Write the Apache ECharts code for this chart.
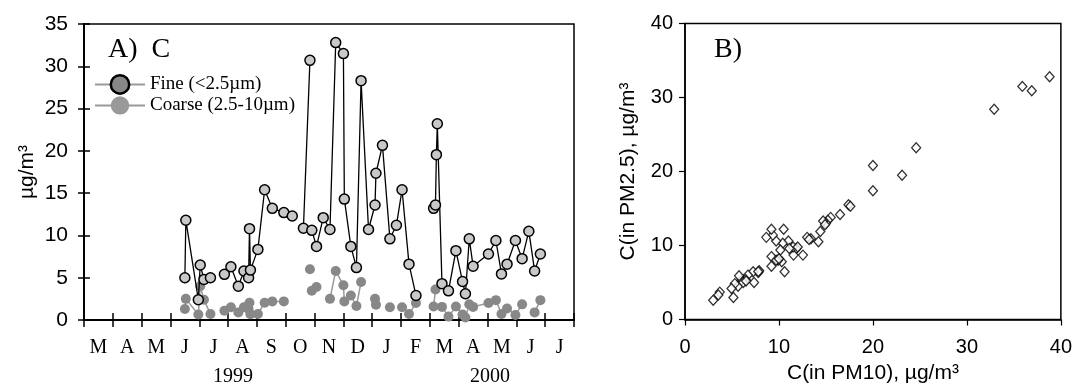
<!DOCTYPE html>
<html><head><meta charset="utf-8">
<script src="https://cdn.jsdelivr.net/npm/echarts@6/dist/echarts.min.js"></script>
<style>html,body{margin:0;padding:0;background:#fff}#c{width:1075px;height:390px}</style>
</head><body><div id="c"></div>
<script>
// ---- data ----
const monthLabels = ['M','A','M','J','J','A','S','O','N','D','J','F','M','A','M','J','J'];
const yearLabels = ['1999','2000'];
const sampleDates = [
 '1999-06-16','1999-06-17','1999-06-30','1999-07-02','1999-07-06','1999-07-13',
 '1999-07-28','1999-08-04','1999-08-12','1999-08-18','1999-08-23','1999-08-24','1999-08-25','1999-09-02','1999-09-09','1999-09-17','1999-09-29','1999-10-08',
 '1999-10-20','1999-10-27',
 '1999-10-29','1999-11-03','1999-11-10','1999-11-17','1999-11-23','1999-12-01','1999-12-02','1999-12-09','1999-12-15','1999-12-20','1999-12-28',
 '2000-01-04','2000-01-05','2000-01-12','2000-01-20','2000-01-27','2000-02-02','2000-02-09','2000-02-16',
 '2000-03-05','2000-03-07','2000-03-08','2000-03-09','2000-03-14','2000-03-21','2000-03-29','2000-04-05','2000-04-08','2000-04-12','2000-04-16',
 '2000-05-02','2000-05-10','2000-05-16','2000-05-22','2000-05-31','2000-06-07','2000-06-14','2000-06-20','2000-06-26'
];
const segment = [
 1,1,1,1,1,1,
 2,2,2,2,2,2,2,2,2,2,2,2,
 3,3,
 4,4,4,4,4,4,4,4,4,4,4,
 4,4,4,4,4,4,4,4,
 5,5,5,5,5,5,5,5,5,5,5,
 5,5,5,5,5,5,5,5,5
];
const fineC = [
 5.0,11.8,2.4,6.5,4.8,5.0,
 5.4,6.3,4.0,5.8,5.0,10.8,5.9,8.35,15.4,13.2,12.7,12.3,
 10.85,30.7,
 10.6,8.7,12.1,10.7,32.8,31.5,14.3,8.7,6.2,28.3,10.7,
 13.6,17.35,20.65,9.6,11.2,15.4,6.6,2.9,
 13.2,13.6,19.55,23.2,4.3,3.45,8.2,4.55,3.1,9.6,6.35,
 7.8,9.4,5.45,6.6,9.4,7.25,10.5,5.8,7.8
];
const coarseC = [
 1.3,2.5,0.65,4.0,2.4,0.7,
 1.1,1.5,0.9,1.5,1.3,2.05,0.67,0.7,2.05,2.2,2.2,null,
 null,6.0,
 3.45,3.9,null,2.5,5.8,4.1,2.2,2.9,1.65,4.5,null,
 2.5,1.8,null,1.5,null,1.5,0.7,2.0,
 1.6,3.6,null,null,1.55,0.4,1.6,0.65,0.3,1.85,1.55,
 2.0,2.35,0.7,1.35,0.6,1.85,null,0.9,2.35
];
const pm10C = [38.8,35.9,36.9,32.9,24.6,23.1,20.0,20.0,17.4,17.6,16.5,15.5,15.2,15.0,14.7,14.9,14.4,14.2,13.4,13.0,13.2,12.55,11.85,11.55,11.5,11.0,11.1,10.6,10.5,10.4,10.15,10.3,9.9,9.7,9.35,9.2,8.65,9.2,9.2,9.7,7.9,7.8,7.25,7.35,6.7,6.45,6.0,5.75,5.65,5.3,4.95,5.15,3.7,3.55,3.0,6.2,6.5,7.8,10.0,12.0];
const pm25C = [32.8,31.5,30.9,28.4,23.2,19.5,20.8,17.4,15.5,15.3,14.2,13.8,13.4,13.0,13.3,12.8,11.9,10.5,10.9,11.1,10.8,8.7,9.6,8.7,9.8,10.6,9.6,6.45,12.2,10.3,9.4,7.8,8.0,10.6,11.4,12.2,11.1,8.5,7.2,8.0,6.6,6.35,6.45,5.0,6.0,5.4,5.3,5.9,4.5,4.85,4.2,2.97,3.7,3.3,2.6,5.0,5.2,6.5,8.2,9.8];

// ---- helpers ----
function monthPos(s){
  const p = s.split('-').map(Number);
  const dim = new Date(p[0], p[1], 0).getDate();
  return (p[0]-1999)*12 + (p[1]-3) + (p[2]-1)/dim;
}
function build(vals){
  const out = [];
  for (let i=0;i<sampleDates.length;i++){
    const x = monthPos(sampleDates[i]);
    if (i>0 && segment[i]!==segment[i-1]) out.push([x-0.01,'-']);
    out.push([x, vals[i]==null ? '-' : vals[i]]);
  }
  return out;
}
const SANS = '"Liberation Sans", Arial, sans-serif';
const SERIF = '"Liberation Serif", "Times New Roman", serif';

const chart = echarts.init(document.getElementById('c'), null, {renderer:'canvas'});
chart.setOption({
  animation:false,
  backgroundColor:'#fff',
  title:[
    {text:'A)  C', left:103, top:31, textStyle:{fontFamily:SERIF, fontSize:28, fontWeight:'normal', color:'#000'}},
    {text:'B)', left:709, top:31, textStyle:{fontFamily:SERIF, fontSize:28, fontWeight:'normal', color:'#000'}}
  ],
  legend:{
    orient:'vertical', left:89, top:69, itemWidth:50, itemHeight:23, itemGap:1,
    textStyle:{fontFamily:SERIF, fontSize:19, color:'#000'},
    data:[
      {name:'Fine (<2.5µm)', itemStyle:{color:'#888', borderColor:'#000', borderWidth:2.5}, lineStyle:{color:'#999', width:2}},
      {name:'Coarse (2.5-10µm)', itemStyle:{color:'#999', borderWidth:0}, lineStyle:{color:'#999', width:2}}
    ]
  },
  grid:[
    {left:84, top:24, width:490, height:296, show:true, borderColor:'#000', borderWidth:1.5, backgroundColor:'transparent'},
    {left:685, top:23.5, width:377, height:296, show:true, borderColor:'#000', borderWidth:1.5, backgroundColor:'transparent'}
  ],
  xAxis:[
    {type:'value', gridIndex:0, position:'bottom', min:0, max:17, interval:1,
     axisLine:{lineStyle:{color:'#000', width:2}}, axisTick:{inside:true, length:7, lineStyle:{color:'#000', width:1.5}},
     axisLabel:{show:false}, splitLine:{show:false}},
    {type:'category', gridIndex:0, position:'bottom', data:monthLabels, boundaryGap:true,
     axisLine:{show:false}, axisTick:{show:true, length:7, lineStyle:{color:'#000', width:1.5}},
     axisLabel:{margin:18, fontFamily:SERIF, fontSize:20, color:'#000'}, splitLine:{show:false}},
    {type:'value', gridIndex:1, min:0, max:40, interval:10,
     axisLine:{lineStyle:{color:'#000', width:1.5}}, axisTick:{length:6, lineStyle:{color:'#000', width:1.2}},
     axisLabel:{margin:18, fontFamily:SANS, fontSize:20, color:'#000'}, splitLine:{show:false},
     name:'C(in PM10), µg/m³', nameLocation:'middle', nameGap:41, nameTextStyle:{fontFamily:SANS, fontSize:21, color:'#000'}}
  ],
  yAxis:[
    {type:'value', gridIndex:0, min:0, max:35, interval:5,
     axisLine:{lineStyle:{color:'#000', width:2}}, axisTick:{length:6, lineStyle:{color:'#000', width:1.5}},
     axisLabel:{margin:16, fontFamily:SANS, fontSize:21, color:'#000'}, splitLine:{show:false},
     name:'µg/m³', nameLocation:'middle', nameGap:46, nameTextStyle:{fontFamily:SANS, fontSize:21, color:'#000'}},
    {type:'value', gridIndex:0, min:0, max:35, interval:5, position:'left',
     axisLine:{lineStyle:{color:'#000', width:2}}, axisTick:{inside:true, length:6, lineStyle:{color:'#000', width:1.5}},
     axisLabel:{show:false}, splitLine:{show:false}},
    {type:'value', gridIndex:1, min:0, max:40, interval:10,
     axisLine:{lineStyle:{color:'#000', width:1.5}}, axisTick:{length:6, lineStyle:{color:'#000', width:1.2}},
     axisLabel:{margin:12, fontFamily:SANS, fontSize:20, color:'#000'}, splitLine:{show:false},
     name:'C(in PM2.5), µg/m³', nameLocation:'middle', nameGap:46, nameTextStyle:{fontFamily:SANS, fontSize:21, color:'#000'}}
  ],
  graphic:[
    {type:'text', x:233, y:377, style:{text:yearLabels[0], textAlign:'center', textVerticalAlign:'middle', font:'20px '+SERIF, fill:'#000'}},
    {type:'text', x:490, y:377, style:{text:yearLabels[1], textAlign:'center', textVerticalAlign:'middle', font:'20px '+SERIF, fill:'#000'}}
  ],
  series:[
    {name:'Coarse (2.5-10µm)', type:'line', xAxisIndex:0, yAxisIndex:0, data:build(coarseC),
     symbol:'circle', symbolSize:10, showAllSymbol:true, connectNulls:false,
     itemStyle:{color:'#888'}, lineStyle:{color:'#999', width:1.5}, z:2},
    {name:'Fine (<2.5µm)', type:'line', xAxisIndex:0, yAxisIndex:0, data:build(fineC),
     symbol:'circle', symbolSize:10, showAllSymbol:true, connectNulls:false,
     itemStyle:{color:'#c8c8c8', borderColor:'#000', borderWidth:1.5}, lineStyle:{color:'#000', width:1.3}, z:3},
    {name:'PM', type:'scatter', xAxisIndex:2, yAxisIndex:2, data:pm10C.map((v,i)=>[v, pm25C[i]]),
     symbol:'diamond', symbolSize:[9,10],
     itemStyle:{color:'#fff', borderColor:'#000', borderWidth:1.3}, z:3}
  ]
});
</script></body></html>
